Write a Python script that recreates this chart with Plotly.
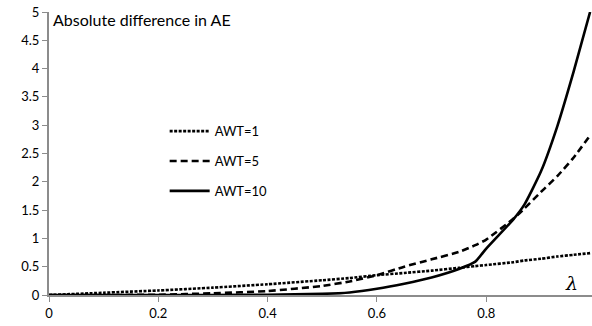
import plotly.graph_objects as go

lam = [0, 0.1, 0.2, 0.3, 0.4, 0.5, 0.55, 0.6, 0.65, 0.7, 0.75, 0.78, 0.8, 0.85, 0.87, 0.9, 0.93, 0.96, 0.99]
awt1 = [0, 0.04, 0.08, 0.13, 0.19, 0.26, 0.30, 0.35, 0.39, 0.43, 0.48, 0.51, 0.53, 0.58, 0.61, 0.64, 0.68, 0.71, 0.74]
awt5 = [0, 0, 0.005, 0.03, 0.07, 0.16, 0.24, 0.35, 0.5, 0.63, 0.76, 0.88, 0.98, 1.35, 1.53, 1.82, 2.1, 2.43, 2.82]
awt10 = [0, 0, 0, 0, 0.005, 0.02, 0.045, 0.11, 0.2, 0.31, 0.46, 0.59, 0.82, 1.34, 1.6, 2.18, 2.98, 3.95, 5.0]

x_ticks = [0, 0.2, 0.4, 0.6, 0.8]
x_tick_labels = ["0", "0.2", "0.4", "0.6", "0.8"]
y_ticks = [0, 0.5, 1, 1.5, 2, 2.5, 3, 3.5, 4, 4.5, 5]
y_tick_labels = ["0", "0.5", "1", "1.5", "2", "2.5", "3", "3.5", "4", "4.5", "5"]

series = [
    ("AWT=1", awt1, "3px,1.5px"),
    ("AWT=5", awt5, "7px,4px"),
    ("AWT=10", awt10, "solid"),
]

fig = go.Figure()
for i, (name, vals, dash) in enumerate(series):
    fig.add_trace(go.Scatter(
        x=lam, y=vals, mode="lines", name=name, legendgroup=name,
        line=dict(color="black", width=2.6, dash=dash, shape="spline", smoothing=0.5),
        cliponaxis=True,
    ))

font = "Lato, 'Open Sans', sans-serif"
fig.update_layout(
    width=592, height=326,
    margin=dict(l=49, r=0, t=12, b=31),
    paper_bgcolor="white", plot_bgcolor="white",
    font=dict(family=font, size=13, color="black"),
    showlegend=True,
    legend=dict(x=0.213, y=0.632, xanchor="left", yanchor="top",
                bgcolor="rgba(0,0,0,0)", font=dict(size=13),
                traceorder="grouped", tracegroupgap=10, itemwidth=40),
    xaxis=dict(range=[0, 0.9935], tickvals=x_ticks, ticktext=x_tick_labels,
               showgrid=False, zeroline=False, showline=True, linecolor="#8c8c8c",
               linewidth=2, ticks="outside", ticklen=5, tickcolor="#8c8c8c", tickwidth=1,
               tickfont=dict(size=13)),
    yaxis=dict(range=[0, 5], tickvals=y_ticks, ticktext=y_tick_labels,
               showgrid=False, zeroline=False, showline=True, linecolor="#8c8c8c",
               linewidth=2, ticks="outside", ticklen=5, tickcolor="#8c8c8c", tickwidth=1,
               tickfont=dict(size=13)),
    annotations=[
        dict(text="Absolute difference in AE", xref="paper", yref="paper",
             x=0.003, y=0.972, xanchor="left", yanchor="middle", showarrow=False,
             font=dict(size=16)),
        dict(text="<i>λ</i>", xref="paper", yref="paper",
             x=0.963, y=0.042, xanchor="center", yanchor="middle", showarrow=False,
             font=dict(size=19, family="'DejaVu Serif', serif")),
    ],
)

fig.write_html("out.html", config={"displayModeBar": False},
               post_script="document.body.style.margin='0';document.body.style.overflow='hidden';")
